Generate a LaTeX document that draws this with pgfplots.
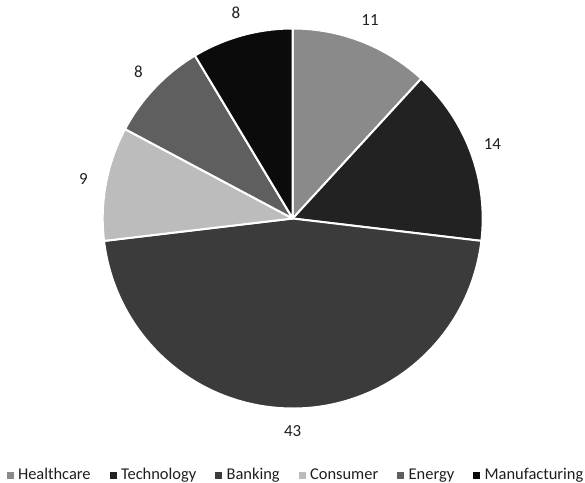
\documentclass[border=0pt]{standalone}
\usepackage{fontspec}
\setmainfont{Carlito}
\usepackage{pgfplots}
\usepackage{pgfplotstable}
\pgfplotsset{compat=1.18}

\definecolor{pc0}{HTML}{8A8A8A}
\definecolor{pc1}{HTML}{222222}
\definecolor{pc2}{HTML}{3B3B3B}
\definecolor{pc3}{HTML}{BCBCBC}
\definecolor{pc4}{HTML}{5F5F5F}
\definecolor{pc5}{HTML}{0B0B0B}
\definecolor{txt}{HTML}{1E1E1E}

\pgfplotstableread{
sector value
Healthcare 11
Technology 14
Banking 43
Consumer 9
Energy 8
Manufacturing 8
}\piedata

\begin{document}
\begin{tikzpicture}
% cumulative angles computed from the table values
\def\total{0}
\pgfplotsforeachungrouped \i in {0,...,5}{%
  \pgfplotstablegetelem{\i}{value}\of\piedata
  \pgfmathsetmacro\total{\total+\pgfplotsretval}%
}
\def\cum{0}
\pgfplotsforeachungrouped \i in {0,...,5}{%
  \pgfplotstablegetelem{\i}{value}\of\piedata
  \let\val\pgfplotsretval
  \pgfmathsetmacro\sa{90-(\cum/\total)*360}%
  \pgfmathsetmacro\cum{\cum+\val}%
  \pgfmathsetmacro\ea{90-(\cum/\total)*360}%
  \pgfmathsetmacro\ma{(\sa+\ea)/2}%
  \expandafter\xdef\csname pieS\i\endcsname{\sa}%
  \expandafter\xdef\csname pieE\i\endcsname{\ea}%
  \expandafter\xdef\csname pieM\i\endcsname{\ma}%
  \expandafter\xdef\csname pieV\i\endcsname{\val}%
}
\begin{axis}[
  scale only axis,
  width=585bp, height=483bp,
  xmin=0, xmax=585, ymin=0, ymax=483,
  hide axis, clip=false,
  legend columns=6,
  legend style={at={(axis cs:295,8)}, anchor=center, draw=none, fill=none,
    inner sep=0pt, text=txt,
    font=\fontsize{16.5}{19}\selectfont,
    nodes={inner sep=0pt},
    /tikz/every odd column/.append style={column sep=5bp},
    /tikz/every even column/.append style={column sep=19bp}},
]
\pgfplotsinvokeforeach{0,...,5}{%
  \fill[fill=pc#1, draw=white, line width=2bp, line join=round]
    (axis cs:292.7,264.5) -- ++(\csname pieS#1\endcsname:190bp)
    arc[start angle=\csname pieS#1\endcsname, end angle=\csname pieE#1\endcsname, radius=190bp] -- cycle;
}
\pgfplotsinvokeforeach{0,...,5}{%
  \path (axis cs:292.7,264.5) ++(\csname pieM#1\endcsname:213bp)
    node[text=txt, font=\fontsize{17}{19}\selectfont] {\csname pieV#1\endcsname};
}
\addlegendimage{legend image code/.code={\fill[pc0] (0bp,-3bp) rectangle (6bp,3bp);}}
\addlegendentry{Healthcare}
\addlegendimage{legend image code/.code={\fill[pc1] (0bp,-3bp) rectangle (6bp,3bp);}}
\addlegendentry{Technology}
\addlegendimage{legend image code/.code={\fill[pc2] (0bp,-3bp) rectangle (6bp,3bp);}}
\addlegendentry{Banking}
\addlegendimage{legend image code/.code={\fill[pc3] (0bp,-3bp) rectangle (6bp,3bp);}}
\addlegendentry{Consumer}
\addlegendimage{legend image code/.code={\fill[pc4] (0bp,-3bp) rectangle (6bp,3bp);}}
\addlegendentry{Energy}
\addlegendimage{legend image code/.code={\fill[pc5] (0bp,-3bp) rectangle (6bp,3bp);}}
\addlegendentry{Manufacturing}
\end{axis}
\pgfresetboundingbox
\path (current axis.south west) rectangle (current axis.north east);
\end{tikzpicture}
\end{document}
